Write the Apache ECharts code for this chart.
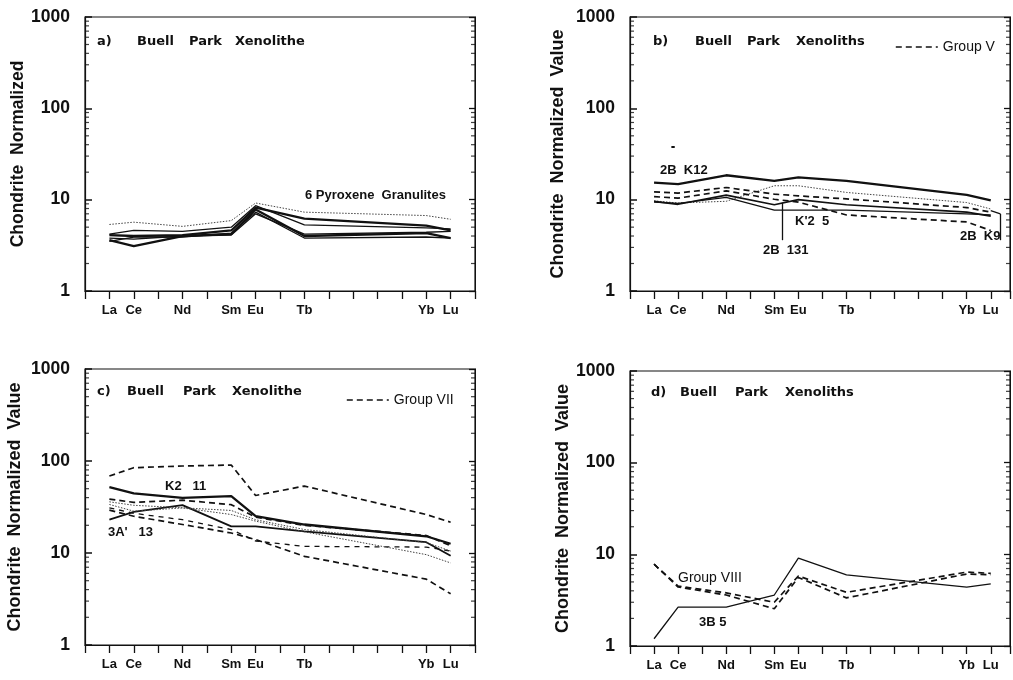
<!DOCTYPE html>
<html><head><meta charset="utf-8">
<script src="https://cdn.jsdelivr.net/npm/echarts@6/dist/echarts.min.js"></script>
<style>html,body{margin:0;padding:0;background:#fff}#c{width:1013px;height:680px}</style>
</head><body><div id="c"></div>
<script>
// ---- categories / ticks ----
const elements = ['La','Ce','Nd','Sm','Eu','Tb','Yb','Lu'];
const elementIndex = [1,2,4,6,7,9,14,15];
const xTickLabels = ['','La','Ce','','Nd','','Sm','Eu','','Tb','','','','','Yb','Lu',''];
const yTickValues = [1,10,100,1000];
const minorTickValues = [2,3,4,5,6,7,8,9,20,30,40,50,60,70,80,90,200,300,400,500,600,700,800,900];

// ---- panel a: 6 pyroxene granulites ----
const a_gran1 = [5.35,5.67,5.1,5.9,9.2,7.3,6.7,6.1];
const a_gran2 = [4.1,4.0,4.1,4.6,8.2,6.2,5.2,4.6];
const a_gran3 = [4.2,4.6,4.5,5.0,8.6,5.3,4.9,4.8];
const a_gran4 = [3.6,3.1,4.0,4.2,7.8,4.0,4.3,3.8];
const a_gran5 = [3.5,3.9,3.9,4.3,7.3,3.8,3.9,3.8];
const a_gran6 = [3.8,3.7,4.0,4.1,7.0,4.2,4.4,4.5];

// ---- panel b ----
const b_2BK12 = [15.4,14.8,18.5,16.1,17.5,16.1,11.3,9.8];
const b_dotted = [9.7,9.2,9.6,14.2,14.2,12.0,9.3,7.9];
const b_groupV1 = [12.2,11.8,13.6,11.5,11.0,10.2,8.2,7.3];
const b_groupV2 = [10.8,10.4,12.5,10.1,9.4,6.8,5.7,4.6];
const b_2B131 = [9.6,8.9,11.2,8.8,10.0,8.8,7.3,6.6];
const b_K25 = [9.4,9.1,10.6,7.7,7.7,7.7,7.0,6.8];

// ---- panel c ----
const c_groupVII1 = [68.6,84.6,88.2,90.4,42.2,53.4,26.2,21.6];
const c_K211 = [52,44.4,39.8,41.5,25.1,20.4,15.2,12.6];
const c_3A13 = [23.1,28,33.1,19.5,19.5,17.2,13.1,9.35];
const c_groupVII2 = [38.5,35.5,37.5,33.5,24.5,20,15.5,12];
const c_groupVII3 = [29.2,25.1,20.4,16.5,14,9.2,5.2,3.6];
const c_groupVII4 = [31,27,23,18,13.5,11.8,11.6,10.5];
const c_dotted1 = [33.7,28.5,30.9,26.2,22.2,17,9.6,7.8];
const c_dotted2 = [36,33,31,29,23,18,13,10.5];

// ---- panel d ----
const d_3B5 = [1.2,2.65,2.65,3.6,9.1,5.96,4.38,4.76];
const d_groupVIII1 = [7.8,4.5,3.8,3.0,5.8,3.85,6.4,6.2];
const d_groupVIII2 = [7.8,4.4,3.6,2.55,5.6,3.35,6.1,6.0];

// ---- styles & layout ----
const INK = '#111';
const FONT = 'Liberation Sans, Arial, sans-serif';
const thick = {color:INK, width:2.3, type:'solid'};
const solid = {color:INK, width:1.3, type:'solid'};
const dashed = {color:INK, width:1.7, type:[6,4]};
const dotted = {color:'#444', width:1, type:[1.5,1.5]};

const grids = [
  {left:85, top:17, width:390, height:274},
  {left:630, top:17, width:382, height:274},
  {left:85, top:369, width:390, height:276},
  {left:630, top:371, width:382, height:275}
];
const xMax = [16, 15.8, 16, 15.8];
const yNames = ['Chondrite  Normalized', 'Chondrite  Normalized  Value', 'Chondrite  Normalized  Value', 'Chondrite  Normalized  Value'];
const yNameGaps = [55, 63, 61, 58];

const xAxes = [], yAxes = [];
grids.forEach((g, i) => {
  g.show = true; g.borderColor = INK; g.borderWidth = 1.2;
  xAxes.push({
    type:'value', gridIndex:i, min:0, max:xMax[i], interval:1,
    axisLine:{show:true, lineStyle:{color:INK, width:1.2}},
    axisTick:{show:true, inside:false, length:8, lineStyle:{color:INK, width:1.3}},
    axisLabel:{formatter:v => xTickLabels[v] || '', fontSize:13, fontWeight:'bold', color:INK, fontFamily:FONT, margin:13},
    splitLine:{show:false}
  });
  yAxes.push({
    type:'log', logBase:10, gridIndex:i, min:1, max:1000, position:'left',
    axisLine:{show:true, lineStyle:{color:INK, width:1.2}},
    axisTick:{show:true, inside:true, length:7, lineStyle:{color:INK, width:1.5}},
    axisLabel:{formatter:v => String(Math.round(v)), fontSize:17.5, fontWeight:'bold', color:INK, fontFamily:FONT, margin:15},
    splitLine:{show:false},
    name:yNames[i], nameLocation:'middle', nameGap:yNameGaps[i],
    nameTextStyle:{fontSize:i === 0 ? 17.5 : 18, fontWeight:'bold', color:INK, fontFamily:FONT}
  });
  yAxes.push({
    type:'log', logBase:10, gridIndex:i, min:1, max:1000, position:'right',
    axisLine:{show:true, lineStyle:{color:INK, width:1}},
    axisTick:{show:true, inside:true, length:6, lineStyle:{color:INK, width:1.3}},
    axisLabel:{show:false}, splitLine:{show:false}
  });
});

function mk(name, grid, vals, style) {
  return {name, type:'line', xAxisIndex:grid, yAxisIndex:grid*2,
    data: elementIndex.map((x, k) => [x, vals[k]]),
    symbol:'none', lineStyle:style, itemStyle:{color:INK}, silent:true, z:3};
}

const series = [
  mk('a1', 0, a_gran1, dotted),
  mk('a2', 0, a_gran2, thick),
  mk('a3', 0, a_gran3, solid),
  mk('a4', 0, a_gran4, thick),
  mk('a5', 0, a_gran5, solid),
  mk('a6', 0, a_gran6, solid),
  mk('2B K12', 1, b_2BK12, thick),
  mk('b dotted', 1, b_dotted, dotted),
  mk('Group V', 1, b_groupV1, dashed),
  mk('Group V', 1, b_groupV2, dashed),
  mk('2B 131', 1, b_2B131, {color:INK, width:1.7, type:'solid'}),
  mk("K'2 5", 1, b_K25, solid),
  mk('Group VII', 2, c_groupVII1, dashed),
  mk('K2 11', 2, c_K211, thick),
  mk("3A' 13", 2, c_3A13, {color:INK, width:1.8, type:'solid'}),
  mk('Group VII', 2, c_groupVII2, dashed),
  mk('Group VII', 2, c_groupVII3, dashed),
  mk('Group VII', 2, c_groupVII4, {color:INK, width:1.3, type:[5,5]}),
  mk('c dotted1', 2, c_dotted1, dotted),
  mk('c dotted2', 2, c_dotted2, dotted),
  mk('3B 5', 3, d_3B5, solid),
  mk('Group VIII', 3, d_groupVIII1, dashed),
  mk('Group VIII', 3, d_groupVIII2, dashed)
];

// leader lines in panel b (data coordinates)
series[10].markLine = {
  silent:true, symbol:['none','none'], label:{show:false}, animation:false,
  lineStyle:{color:INK, width:1.3, type:'solid'},
  data:[
    [{coord:[6.31, 9.3]}, {coord:[6.31, 3.6]}],
    [{coord:[15, 7.6]}, {coord:[15.4, 7.0]}],
    [{coord:[15.4, 7.0]}, {coord:[15.4, 3.6]}],
    [{coord:[1.72, 38], lineStyle:{width:2}}, {coord:[1.86, 38]}]
  ]
};

// minor log ticks on left and right axes
grids.forEach((g, i) => {
  series.push({type:'scatter', xAxisIndex:i, yAxisIndex:i*2, silent:true, clip:false, z:5,
    data: minorTickValues.map(v => [0, v]), symbol:'rect', symbolSize:[4,1.2], symbolOffset:[2,0],
    itemStyle:{color:INK}});
  series.push({type:'scatter', xAxisIndex:i, yAxisIndex:i*2, silent:true, clip:false, z:5,
    data: minorTickValues.map(v => [xMax[i], v]), symbol:'rect', symbolSize:[4,1.2], symbolOffset:[-2,0],
    itemStyle:{color:INK}});
});

// text elements
const TF = 'bold 13px "DejaVu Sans"';
const words = [
  ['a)',97,42],['Buell',137,42],['Park',189,42],['Xenolithe',235,42],
  ['b)',653,42],['Buell',695,42],['Park',747,42],['Xenoliths',796,42],
  ['c)',97,392],['Buell',127,392],['Park',183,392],['Xenolithe',232,392],
  ['d)',651,393],['Buell',680,393],['Park',735,393],['Xenoliths',785,393]
];
const notes = [
  ['6 Pyroxene  Granulites',305,195,'bold 13px "Liberation Sans"'],
  ['2B  K12',660,170,'bold 13px "Liberation Sans"'],
  ["K'2  5",795,221,'bold 13px "Liberation Sans"'],
  ['2B  131',763,250,'bold 13px "Liberation Sans"'],
  ['2B  K9',960,236,'bold 13px "Liberation Sans"'],
  ['K2   11',165,486,'bold 13px "Liberation Sans"'],
  ["3A'   13",108,532,'bold 13px "Liberation Sans"'],
  ['Group VIII',678,578,'14px "Liberation Sans"'],
  ['3B 5',699,622,'bold 13px "Liberation Sans"']
];
const graphic = words.map(w => ({type:'text', x:w[1], y:w[2], silent:true,
  style:{text:w[0], font:TF, fill:INK, verticalAlign:'middle', textVerticalAlign:'middle'}}))
  .concat(notes.map(n => ({type:'text', x:n[1], y:n[2], silent:true,
  style:{text:n[0], font:n[3], fill:INK, verticalAlign:'middle', textVerticalAlign:'middle'}})));

const legendCommon = {orient:'horizontal', itemWidth:42, itemHeight:12, itemGap:0, padding:0,
  selectedMode:false,
  itemStyle:{opacity:0, borderWidth:0},
  lineStyle:{color:INK, width:1.6, type:[6,4], opacity:1},
  textStyle:{fontSize:14, color:INK, fontFamily:FONT}};
const legends = [
  Object.assign({}, legendCommon, {data:['Group V'], left:895, top:40}),
  Object.assign({}, legendCommon, {data:['Group VII'], left:346, top:393})
];

const chart = echarts.init(document.getElementById('c'), null, {renderer:'canvas'});
chart.setOption({
  animation:false,
  backgroundColor:'#fff',
  grid:grids, xAxis:xAxes, yAxis:yAxes,
  legend:legends,
  series:series,
  graphic:graphic
});
</script></body></html>
